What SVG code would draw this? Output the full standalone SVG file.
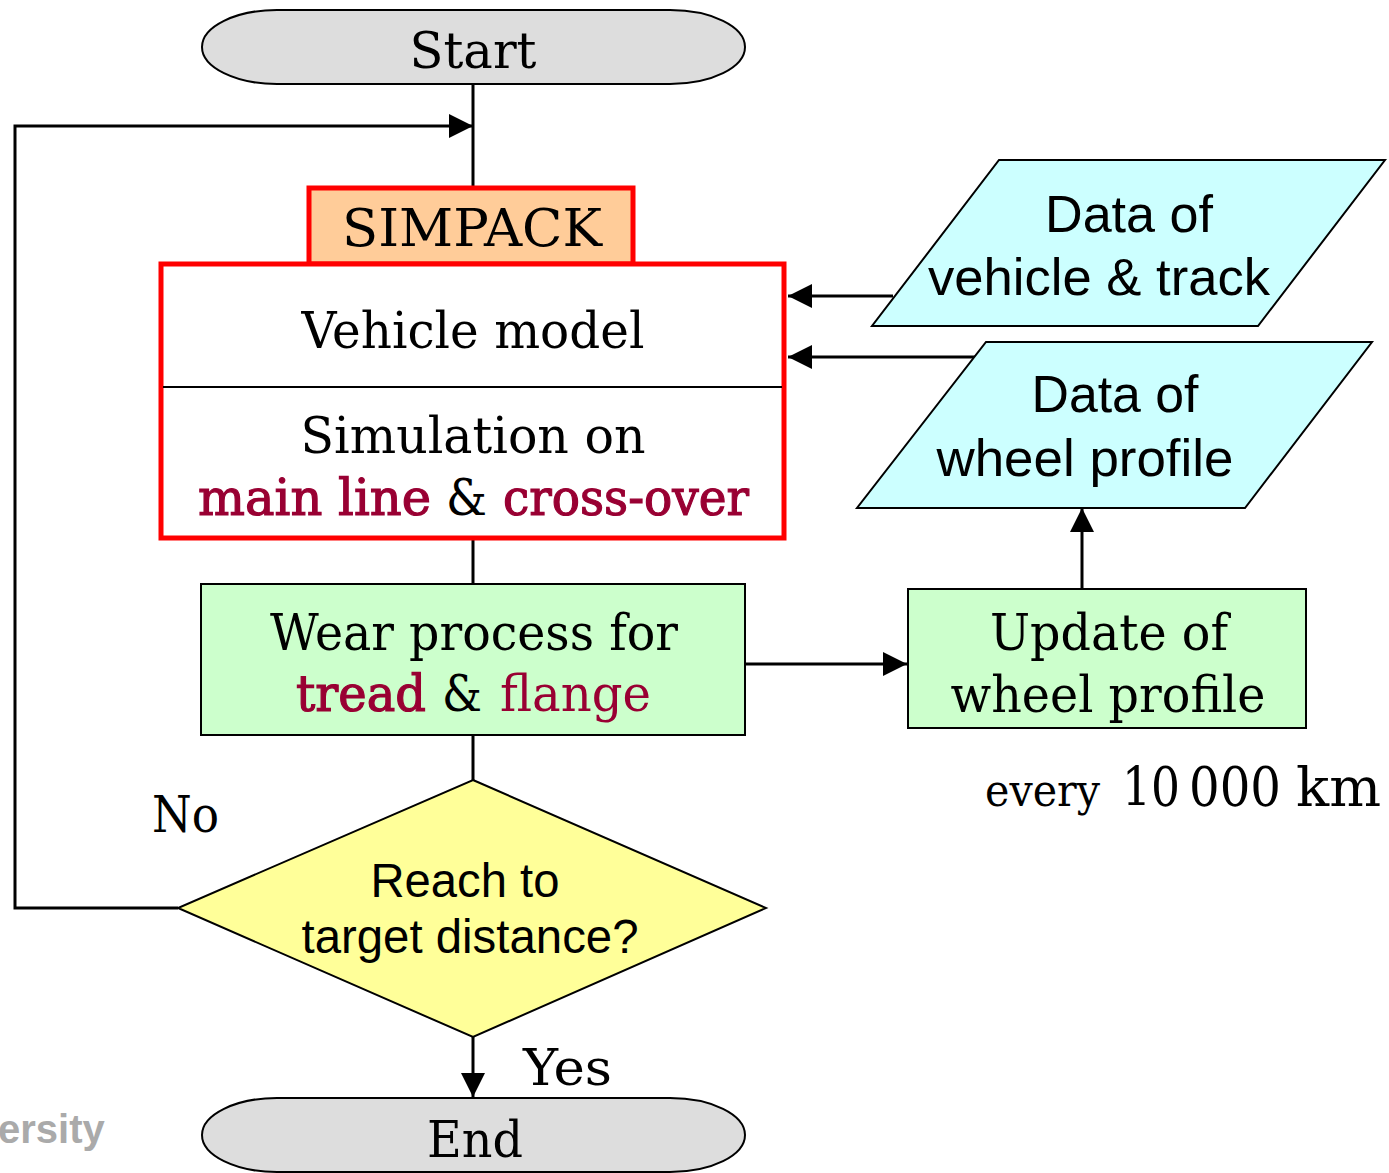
<svg xmlns="http://www.w3.org/2000/svg" width="1389" height="1173" viewBox="0 0 1389 1173">
<defs>
<marker id="ah" viewBox="0 0 24 24" refX="24" refY="12" markerWidth="24" markerHeight="24" markerUnits="userSpaceOnUse" orient="auto">
<path d="M0,0 L24,12 L0,24 z" fill="#000"/>
</marker>
</defs>
<style>
.serif{font-family:"DejaVu Serif","Liberation Serif",serif;fill:#000}
.sans{font-family:"Liberation Sans",Arial,sans-serif;fill:#000}
.conn{fill:none;stroke:#000;stroke-width:3}
.term{fill:#DDDDDD;stroke:#000;stroke-width:2}
.green{fill:#CCFFCC;stroke:#000;stroke-width:2}
.cyan{fill:#CCFFFF;stroke:#000;stroke-width:2}
.red{stroke:#FF0000;stroke-width:5}
.dr{fill:#990033}
.b{stroke:#990033;stroke-width:1.2}
</style>
<g id="connectors">
<path class="conn" d="M473,84 V187"/>
<path class="conn" d="M473,538 V584"/>
<path class="conn" d="M473,735 V780"/>
<path class="conn" d="M178,908 H15 V126 H473" marker-end="url(#ah)"/>
<path class="conn" d="M473,1037 V1097" marker-end="url(#ah)"/>
<path class="conn" d="M745,664 H907" marker-end="url(#ah)"/>
<path class="conn" d="M1082,589 V508" marker-end="url(#ah)"/>
<path class="conn" d="M893,296 H788" marker-end="url(#ah)"/>
<path class="conn" d="M975,357 H788" marker-end="url(#ah)"/>
</g>
<g id="start">
<rect class="term" x="202" y="10" width="543" height="74" rx="75" ry="37"/>
<text class="serif" x="473" y="68" font-size="50" text-anchor="middle" textLength="127" lengthAdjust="spacingAndGlyphs">Start</text>
</g>
<g id="simpack">
<rect class="red" fill="#FFCC99" x="309" y="188" width="324" height="76"/>
<text class="serif" x="472" y="246" font-size="52" text-anchor="middle" textLength="260" lengthAdjust="spacingAndGlyphs">SIMPACK</text>
</g>
<g id="simulation">
<rect class="red" fill="#FFFFFF" x="161" y="264" width="623" height="274"/>
<line x1="163" y1="387" x2="782" y2="387" stroke="#000" stroke-width="2"/>
<text class="serif" x="473" y="348" font-size="50" text-anchor="middle" textLength="343" lengthAdjust="spacingAndGlyphs">Vehicle model</text>
<text class="serif" x="473" y="453" font-size="50" text-anchor="middle" textLength="345" lengthAdjust="spacingAndGlyphs">Simulation on</text>
<text class="serif dr b" x="198" y="515" font-size="50" textLength="233" lengthAdjust="spacingAndGlyphs">main line</text>
<text class="serif" x="446" y="515" font-size="50" textLength="41" lengthAdjust="spacingAndGlyphs">&amp;</text>
<text class="serif dr b" x="503" y="515" font-size="50" textLength="246" lengthAdjust="spacingAndGlyphs">cross-over</text>
</g>
<g id="wear">
<rect class="green" x="201" y="584" width="544" height="151"/>
<text class="serif" x="474" y="650" font-size="50" text-anchor="middle" textLength="408" lengthAdjust="spacingAndGlyphs">Wear process for</text>
<text class="serif dr b" x="296" y="711" font-size="50" textLength="130" lengthAdjust="spacingAndGlyphs">tread</text>
<text class="serif" x="442" y="711" font-size="50" textLength="40" lengthAdjust="spacingAndGlyphs">&amp;</text>
<text class="serif dr" x="500" y="711" font-size="50" textLength="151" lengthAdjust="spacingAndGlyphs">flange</text>
</g>
<g id="update">
<rect class="green" x="908" y="589" width="398" height="139"/>
<text class="serif" x="1109" y="650" font-size="50" text-anchor="middle" textLength="238" lengthAdjust="spacingAndGlyphs">Update of</text>
<text class="serif" x="1108" y="712" font-size="50" text-anchor="middle" textLength="315" lengthAdjust="spacingAndGlyphs">wheel profile</text>
</g>
<g id="every">
<text class="serif" x="985" y="806" font-size="44" textLength="115" lengthAdjust="spacingAndGlyphs">every</text>
<text class="serif" x="1122" y="806" font-size="54" textLength="58" lengthAdjust="spacingAndGlyphs">10</text>
<text class="serif" x="1189" y="806" font-size="54" textLength="92" lengthAdjust="spacingAndGlyphs">000</text>
<text class="serif" x="1296" y="806" font-size="54" textLength="85" lengthAdjust="spacingAndGlyphs">km</text>
</g>
<g id="data-vehicle">
<polygon class="cyan" points="999,160 1385,160 1258,326 872,326"/>
<text class="sans" x="1129" y="232" font-size="52" text-anchor="middle" textLength="168" lengthAdjust="spacingAndGlyphs">Data of</text>
<text class="sans" x="1099" y="295" font-size="52" text-anchor="middle" textLength="342" lengthAdjust="spacingAndGlyphs">vehicle &amp; track</text>
</g>
<g id="data-wheel">
<polygon class="cyan" points="986,342 1372,342 1245,508 857,508"/>
<text class="sans" x="1115" y="412" font-size="52" text-anchor="middle" textLength="167" lengthAdjust="spacingAndGlyphs">Data of</text>
<text class="sans" x="1085" y="476" font-size="52" text-anchor="middle" textLength="297" lengthAdjust="spacingAndGlyphs">wheel profile</text>
</g>
<g id="decision">
<polygon points="473,780 766,908 473,1037 178,908" fill="#FFFF99" stroke="#000" stroke-width="2"/>
<text class="sans" x="465" y="897" font-size="48" text-anchor="middle" textLength="189" lengthAdjust="spacingAndGlyphs">Reach to</text>
<text class="sans" x="470" y="953" font-size="48" text-anchor="middle" textLength="337" lengthAdjust="spacingAndGlyphs">target distance?</text>
</g>
<g id="labels">
<text class="serif" x="152" y="832" font-size="50" textLength="67" lengthAdjust="spacingAndGlyphs">No</text>
<text class="serif" x="523" y="1085" font-size="50" textLength="89" lengthAdjust="spacingAndGlyphs">Yes</text>
</g>
<g id="end">
<rect class="term" x="202" y="1098" width="543" height="74" rx="75" ry="37"/>
<text class="serif" x="475" y="1157" font-size="50" text-anchor="middle" textLength="96" lengthAdjust="spacingAndGlyphs">End</text>
</g>
<text x="-2" y="1143" font-family="Liberation Sans, Arial, sans-serif" font-weight="bold" font-size="40" fill="#AAAAAA">ersity</text>
</svg>
